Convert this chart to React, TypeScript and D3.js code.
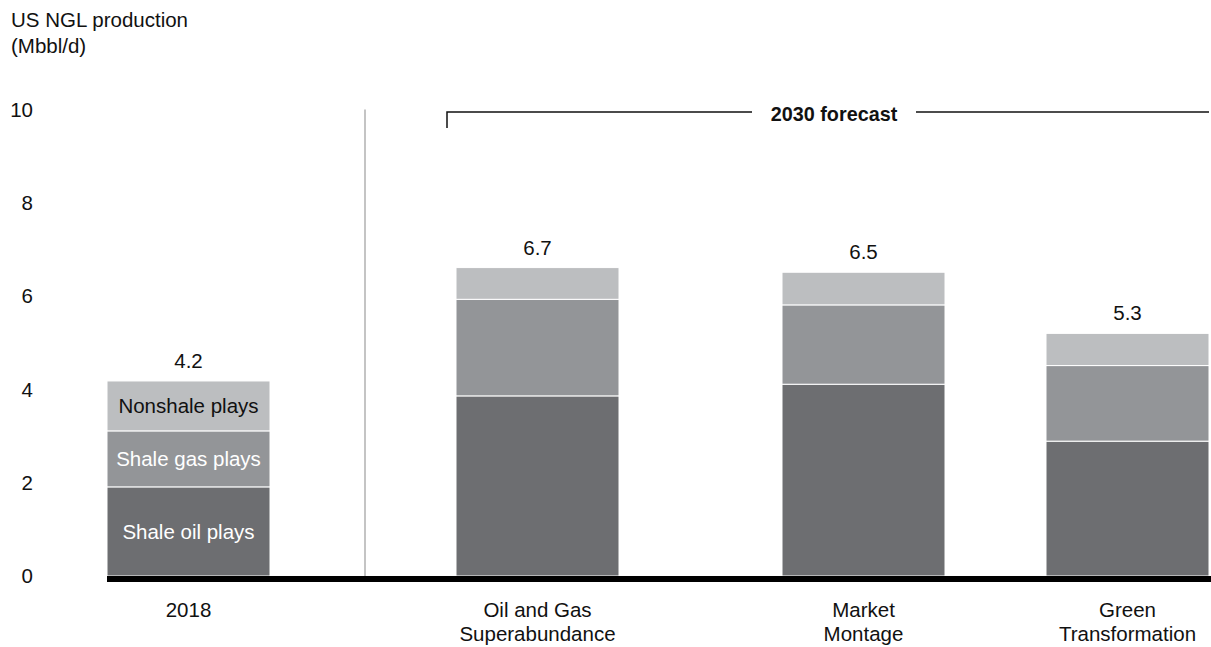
import React, { useEffect, useRef } from "react";
import * as d3 from "d3";

// values in Mbbl/d
const categories = ["2018", "Oil and Gas Superabundance", "Market Montage", "Green Transformation"];
const categoryLines = [["2018"], ["Oil and Gas", "Superabundance"], ["Market", "Montage"], ["Green", "Transformation"]];
const shaleOil = [1.91, 3.86, 4.11, 2.89];
const shaleGas = [1.2, 2.07, 1.7, 1.62];
const nonshale = [1.07, 0.68, 0.7, 0.69];
const totalLabels = ["4.2", "6.7", "6.5", "5.3"];
const seriesNames = ["Shale oil plays", "Shale gas plays", "Nonshale plays"];
const yTicks = [0, 2, 4, 6, 8, 10];

const colors = ["#6d6e71", "#939598", "#bcbec0"];
const labelColors = ["#ffffff", "#ffffff", "#111111"];
const FONT = "'Liberation Sans', Arial, sans-serif";

const App: React.FC = () => {
  const ref = useRef<SVGSVGElement | null>(null);
  const width = 1211;
  const height = 647;

  useEffect(() => {
    if (!ref.current) return;
    const svg = d3.select(ref.current);
    svg.selectAll("*").remove();

    const y = d3.scaleLinear().domain([0, 10]).range([576, 109.4]);
    // bar left edges are not evenly spaced in the original
    const x = d3.scaleOrdinal<string, number>().domain(categories).range([107, 456, 782, 1046]);
    const barW = 163;

    const rows = categories.map((c, i) => ({
      cat: c,
      oil: shaleOil[i],
      gas: shaleGas[i],
      non: nonshale[i],
    }));
    const stack = d3.stack<any>().keys(["oil", "gas", "non"])(rows);

    // title
    const title = svg.append("g").attr("font-family", FONT).attr("font-size", 20.5).attr("fill", "#111");
    title.append("text").attr("x", 11).attr("y", 27).text("US NGL production");
    title.append("text").attr("x", 11).attr("y", 53).text("(Mbbl/d)");

    // y tick labels
    svg
      .append("g")
      .selectAll("text")
      .data(yTicks)
      .join("text")
      .attr("x", 33)
      .attr("y", (d) => y(d))
      .attr("dy", "0.35em")
      .attr("text-anchor", "end")
      .attr("font-family", FONT)
      .attr("font-size", 20.5)
      .attr("fill", "#111")
      .text((d) => d);

    // separator between actual and forecast
    svg
      .append("line")
      .attr("x1", 365)
      .attr("x2", 365)
      .attr("y1", y(10))
      .attr("y2", y(0))
      .attr("stroke", "#c4c4c4")
      .attr("stroke-width", 2);

    // stacked bars
    stack.forEach((layer, li) => {
      svg
        .append("g")
        .selectAll("rect")
        .data(layer)
        .join("rect")
        .attr("x", (d: any) => x(d.data.cat))
        .attr("width", barW)
        .attr("y", (d) => y(d[1]))
        .attr("height", (d) => y(d[0]) - y(d[1]))
        .attr("fill", colors[li])
        .attr("stroke", "#ffffff")
        .attr("stroke-width", 1);
    });

    // segment labels on the 2018 bar
    stack.forEach((layer, li) => {
      const d = layer[0];
      svg
        .append("text")
        .attr("x", x(categories[0]) + barW / 2)
        .attr("y", (y(d[0]) + y(d[1])) / 2)
        .attr("dy", "0.35em")
        .attr("text-anchor", "middle")
        .attr("font-family", FONT)
        .attr("font-size", 20.5)
        .attr("fill", labelColors[li])
        .text(seriesNames[li]);
    });

    // totals above bars
    const top = stack[stack.length - 1];
    svg
      .append("g")
      .selectAll("text")
      .data(top)
      .join("text")
      .attr("x", (d: any) => x(d.data.cat) + barW / 2)
      .attr("y", (d) => y(d[1]) - 13)
      .attr("text-anchor", "middle")
      .attr("font-family", FONT)
      .attr("font-size", 20.5)
      .attr("fill", "#111")
      .text((_, i) => totalLabels[i]);

    // baseline
    svg
      .append("line")
      .attr("x1", x(categories[0]))
      .attr("x2", width)
      .attr("y1", y(0) + 3)
      .attr("y2", y(0) + 3)
      .attr("stroke", "#000")
      .attr("stroke-width", 6);

    // category labels
    categoryLines.forEach((lines, i) => {
      const t = svg
        .append("text")
        .attr("text-anchor", "middle")
        .attr("font-family", FONT)
        .attr("font-size", 20.5)
        .attr("fill", "#111");
      lines.forEach((ln, j) => {
        t.append("tspan")
          .attr("x", x(categories[i]) + barW / 2)
          .attr("y", 617 + j * 24)
          .text(ln);
      });
    });

    // forecast bracket
    const bx0 = 447;
    const bx1 = x(categories[3]) + barW;
    const by = 112;
    const bracket = svg.append("g").attr("stroke", "#111").attr("stroke-width", 1.5).attr("fill", "none");
    bracket.append("path").attr("d", `M${bx0},${by + 16}V${by}H752`);
    bracket.append("path").attr("d", `M916,${by}H${bx1}`);
    svg
      .append("text")
      .attr("x", 834)
      .attr("y", 121)
      .attr("text-anchor", "middle")
      .attr("font-family", FONT)
      .attr("font-size", 19.8)
      .attr("font-weight", "bold")
      .attr("fill", "#111")
      .text("2030 forecast");
  }, []);

  return (
    <svg
      ref={ref}
      width={width}
      height={height}
      style={{ position: "absolute", left: 0, top: 0, background: "#fff" }}
    />
  );
};

export default App;
